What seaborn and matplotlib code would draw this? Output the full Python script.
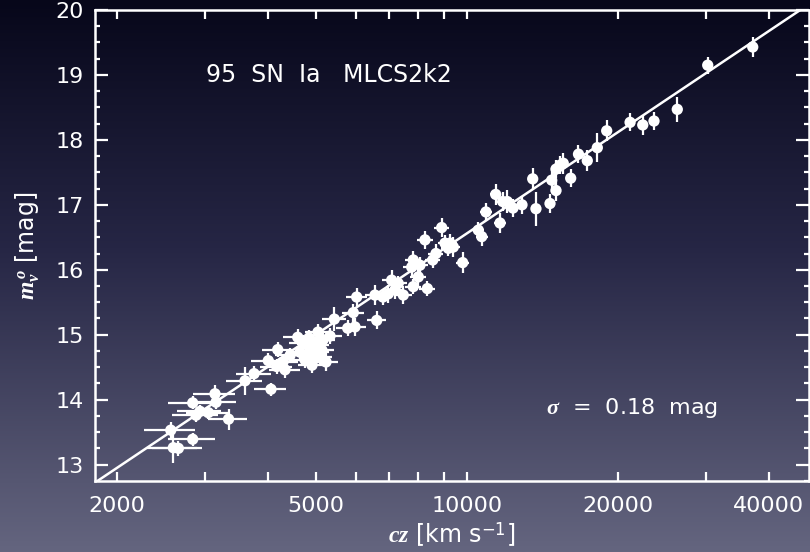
import numpy as np
import pandas as pd
import matplotlib
matplotlib.use("Agg")
import matplotlib.pyplot as plt
from matplotlib.colors import LinearSegmentedColormap
from matplotlib.ticker import FixedLocator, FixedFormatter, MultipleLocator
import seaborn as sns

# Hubble diagram of 95 SN Ia
cz = [2564, 2836, 2594, 2655, 2836, 2933, 2880, 3047, 3142, 3157,
      3344, 3607, 3760, 4064, 4014, 4192, 4172, 4335, 4596,
      4710, 4863, 4999, 4930, 5091, 5162, 5044, 5331, 4775, 5234, 4645,
      5437, 5782, 5979, 5933, 6026, 6555, 6607, 6967, 7077, 7295,
      7465, 7816, 7759, 7998, 7816, 8337, 8249, 8547, 8676, 8906,
      9253, 9395, 9181, 9808, 10539, 10705, 10917, 11416, 11790, 12042,
      11644, 12882, 13532, 13736, 14652, 14767, 15062, 15062, 15573, 16113,
      16702, 17390, 18210, 19014, 21170, 22440, 23630, 26300, 30250, 37200,
      4999, 5138, 4840, 4907, 7185, 6800, 9042, 15340, 8060, 4436,
      4295, 4753, 12360]
mag = [13.53, 13.39, 13.26, 13.25, 13.95, 13.82, 13.76, 13.80, 14.09, 13.96,
       13.70, 14.29, 14.40, 14.16, 14.60, 14.77, 14.51, 14.46, 14.96,
       14.87, 14.79, 14.73, 14.61, 14.65, 14.92, 15.04, 14.98, 14.68, 14.58, 14.73,
       15.24, 15.10, 15.12, 15.34, 15.58, 15.61, 15.22, 15.63, 15.84, 15.79,
       15.61, 16.15, 16.04, 15.89, 15.74, 15.71, 16.46, 16.15, 16.25, 16.65,
       16.41, 16.35, 16.33, 16.11, 16.61, 16.51, 16.89, 17.16, 17.05, 17.05,
       16.72, 17.00, 17.40, 16.94, 17.02, 17.38, 17.22, 17.55, 17.64, 17.41,
       17.78, 17.68, 17.88, 18.14, 18.27, 18.23, 18.29, 18.47, 19.15, 19.43,
       14.84, 14.76, 14.95, 14.53, 15.69, 15.58, 16.41, 17.61, 16.07, 14.68,
       14.58, 14.61, 16.95]
mag_err = [0.12, 0.10, 0.24, 0.12, 0.10, 0.10, 0.10, 0.10, 0.13, 0.10,
           0.16, 0.22, 0.12, 0.10, 0.12, 0.12, 0.12, 0.12, 0.12,
           0.12, 0.12, 0.14, 0.12, 0.12, 0.12, 0.12, 0.12, 0.12, 0.14, 0.12,
           0.18, 0.12, 0.14, 0.14, 0.14, 0.16, 0.14, 0.14, 0.16, 0.12,
           0.14, 0.14, 0.14, 0.16, 0.12, 0.12, 0.14, 0.12, 0.14, 0.14,
           0.14, 0.16, 0.12, 0.16, 0.12, 0.14, 0.14, 0.16, 0.14, 0.18,
           0.16, 0.14, 0.16, 0.26, 0.14, 0.18, 0.16, 0.14, 0.16, 0.14,
           0.14, 0.16, 0.22, 0.16, 0.14, 0.16, 0.14, 0.19, 0.13, 0.16,
           0.12, 0.12, 0.12, 0.12, 0.14, 0.12, 0.12, 0.14, 0.12, 0.12,
           0.12, 0.12, 0.14]
v_pec = 300  # km/s horizontal error

# fitted line  m = slope*log10(cz) + intercept
slope = 5.17
intercept = -4.12

xticks_major = [2000, 5000, 10000, 20000, 40000]
xtick_labels = ["2000", "5000", "10000", "20000", "40000"]
xticks_minor = [3000, 4000, 6000, 7000, 8000, 9000, 30000]

df = pd.DataFrame({"cz": cz, "mag": mag, "err": mag_err})

sns.set_style("ticks")
plt.rcParams["font.family"] = ["DejaVu Sans"]
plt.rcParams["mathtext.fontset"] = "custom"
plt.rcParams["mathtext.rm"] = "DejaVu Sans"
plt.rcParams["mathtext.it"] = "Liberation Serif:bold:italic"
plt.rcParams["mathtext.bf"] = "Liberation Serif:bold:italic"

fig = plt.figure(figsize=(8.1, 5.52), dpi=100)

# gradient background
bg = fig.add_axes([0, 0, 1, 1], zorder=-10)
cmap = LinearSegmentedColormap.from_list(
    "bg", [(0.0, "#07071a"), (0.45, "#262645"), (1.0, "#64657f")])
bg.imshow(np.linspace(0, 1, 256).reshape(-1, 1), aspect="auto", cmap=cmap,
          extent=[0, 1, 0, 1])
bg.axis("off")

ax = fig.add_axes([95/810, 71/552, 714/810, 471/552])
ax.set_facecolor("none")
ax.set_xscale("log")
ax.set_xlim(1810, 48180)
ax.set_ylim(12.747, 20)

ax.errorbar(df["cz"], df["mag"], xerr=v_pec, yerr=df["err"], fmt="none",
            ecolor="white", elinewidth=1.6, capsize=0, zorder=2)
sns.scatterplot(data=df, x="cz", y="mag", color="white", s=66,
                edgecolor="none", zorder=3, ax=ax)

xl = np.array(ax.get_xlim())
ax.plot(xl, slope * np.log10(xl) + intercept, color="white", lw=1.8, zorder=4)

for s in ax.spines.values():
    s.set_color("white")
    s.set_linewidth(1.8)

ax.xaxis.set_major_locator(FixedLocator(xticks_major))
ax.xaxis.set_major_formatter(FixedFormatter(xtick_labels))
ax.xaxis.set_minor_locator(FixedLocator(xticks_minor))
ax.xaxis.set_minor_formatter(FixedFormatter([""] * len(xticks_minor)))
ax.yaxis.set_major_locator(MultipleLocator(1))
ax.yaxis.set_minor_locator(MultipleLocator(0.25))

ax.tick_params(axis="x", which="both", direction="in", top=True, length=6.5,
               width=1.6, color="white", labelcolor="white", labelsize=16, pad=11)
ax.tick_params(axis="y", which="major", direction="in", right=True, length=9.5,
               width=1.6, color="white", labelcolor="white", labelsize=16, pad=8)
ax.tick_params(axis="y", which="minor", direction="in", right=True, length=3.8,
               width=1.6, color="white")

ax.set_xlabel(r"$\mathbf{cz}$ [km s$^{-1}$]", color="white", fontsize=17,
              labelpad=3)
ax.set_ylabel(r"$m_v^{\,o}$ [mag]", color="white", fontsize=17, labelpad=10)

ax.text(0.155, 0.862, "95  SN  Ia   MLCS2k2", transform=ax.transAxes,
        color="white", fontsize=17, va="center", ha="left")
ax.text(0.632, 0.155, r"$\sigma$  =  0.18  mag", transform=ax.transAxes,
        color="white", fontsize=16, va="center", ha="left")

fig.savefig("out.png", dpi=100)
